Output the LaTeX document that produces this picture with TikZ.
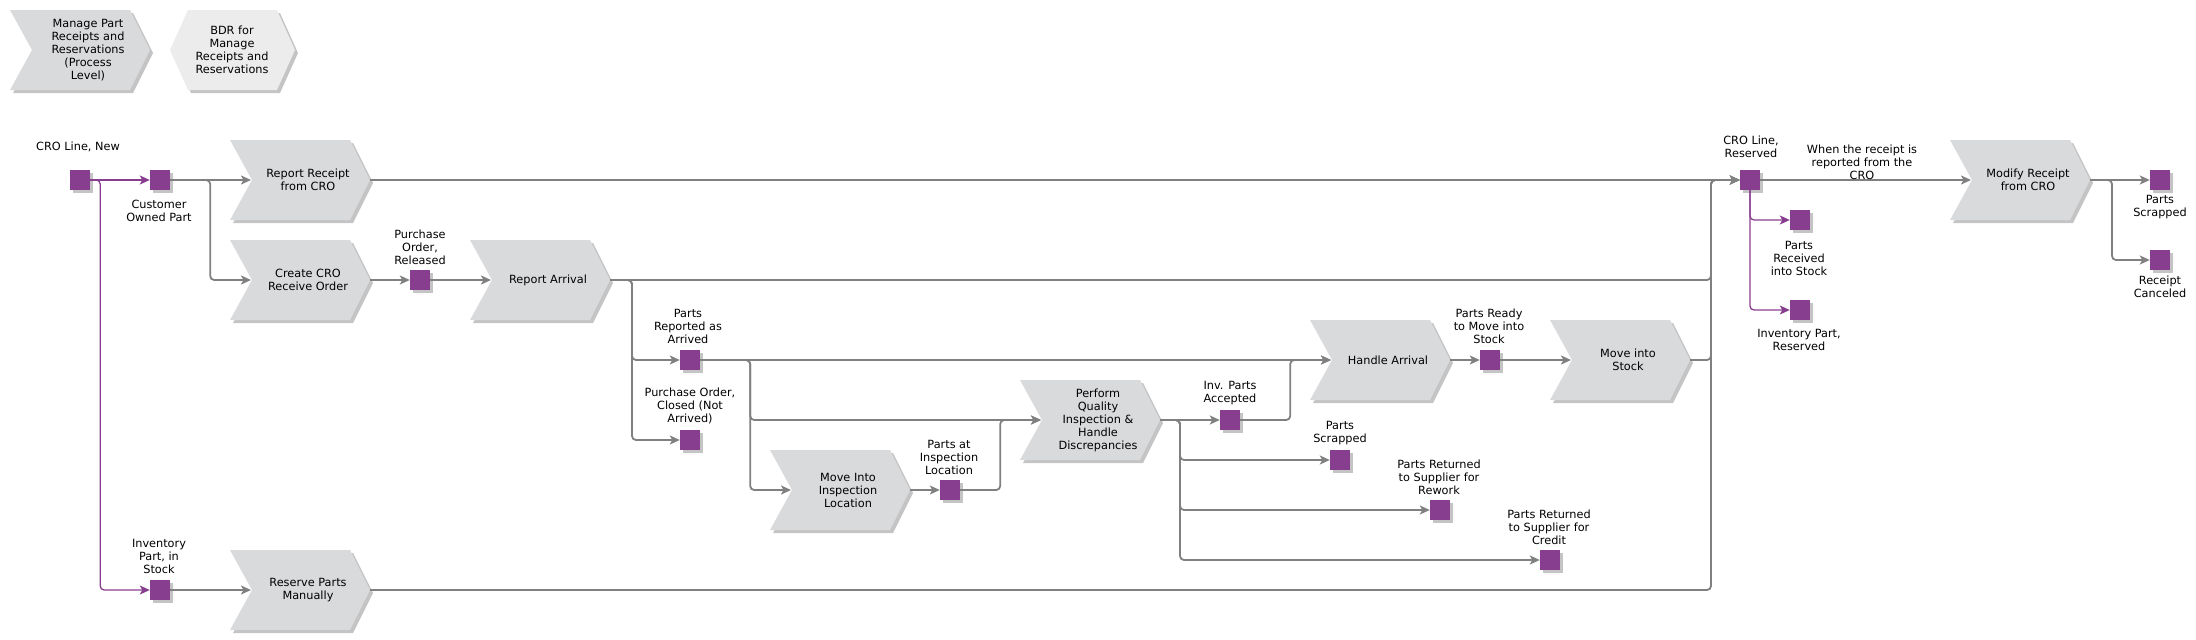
\documentclass[tikz,border=0pt]{standalone}
\usepackage{fontspec}
\setmainfont{DejaVu Sans}
\usetikzlibrary{arrows.meta,calc}
\definecolor{chevfill}{HTML}{D9DADC}
\definecolor{hexfill}{HTML}{ECECEC}
\definecolor{evpurple}{HTML}{883E8E}
\definecolor{lgray}{HTML}{808080}
\definecolor{shad}{HTML}{C4C4C4}
\tikzset{
  every node/.style={font=\fontsize{11.3}{13}\selectfont},
  lbl/.style={align=center, inner sep=0pt},
  evbox/.style={fill=evpurple, minimum size=20pt, inner sep=0pt, draw=none},
  conn/.style={draw=lgray, line width=1.8pt, rounded corners=4pt, -{Stealth[length=10pt,width=9pt,inset=2.5pt]}},
  pconn/.style={draw=evpurple, line width=1.3pt, rounded corners=4pt, -{Stealth[length=10pt,width=9pt,inset=2.5pt]}},
  fnbox/.style={minimum width=140pt, minimum height=80pt, inner sep=0pt},
  fntext/.style={align=center, inner sep=0pt},
}
\newcommand\chevfn[5][chevfill]{%
  \begin{scope}[shift={(#3,#4)}]
    \fill[shad] (-67,-37) -- (53,-37) -- (73,3) -- (53,43) -- (-67,43) -- (-45,3) -- cycle;
    \fill[#1] (-70,-40) -- (50,-40) -- (70,0) -- (50,40) -- (-70,40) -- (-48,0) -- cycle;
    \node[fnbox] (#2) at (0,0) {};
    \node[fntext] (#2-t) at (8,0) {#5};
    \coordinate (#2-in) at (-49,0);
    \coordinate (#2-out) at (70,0);
  \end{scope}}
\newcommand\evt[3]{%
  \fill[shad] (#2-7,#3-7) rectangle (#2+13,#3+13);
  \node[evbox] (#1) at (#2,#3) {};}
\begin{document}
\begin{tikzpicture}[x=1pt,y=-1pt]
\useasboundingbox (0,0) rectangle (2196,640);
\coordinate (bus) at (1711,0);

% legend
\chevfn{lg1}{80}{50}{Manage Part\\Receipts and\\Reservations\\(Process\\Level)}
\fill[shad] (173,53) -- (191,13) -- (280,13) -- (298,53) -- (280,93) -- (191,93) -- cycle;
\fill[hexfill] (170,50) -- (188,10) -- (277,10) -- (295,50) -- (277,90) -- (188,90) -- cycle;
\node[lbl] (lg2) at (232,50) {BDR for\\Manage\\Receipts and\\Reservations};

% functions
\chevfn{rrc}{300}{180}{Report Receipt\\from CRO}
\chevfn{ccro}{300}{280}{Create CRO\\Receive Order}
\chevfn{rpm}{300}{590}{Reserve Parts\\Manually}
\chevfn{rar}{540}{280}{Report Arrival}
\chevfn{mil}{840}{490}{Move Into\\Inspection\\Location}
\chevfn{pqi}{1090}{420}{Perform\\Quality\\Inspection \&\\Handle\\Discrepancies}
\chevfn{har}{1380}{360}{Handle Arrival}
\chevfn{mis}{1620}{360}{Move into\\Stock}
\chevfn{mrc}{2020}{180}{Modify Receipt\\from CRO}

% events
\evt{crn}{80}{180}
\evt{cop}{160}{180}
\evt{ips}{160}{590}
\evt{por}{420}{280}
\evt{pra}{690}{360}
\evt{poc}{690}{440}
\evt{pil}{950}{490}
\evt{ipa}{1230}{420}
\evt{psc}{1340}{460}
\evt{prr}{1440}{510}
\evt{prc}{1550}{560}
\evt{prm}{1490}{360}
\evt{clr}{1750}{180}
\evt{pris}{1800}{220}
\evt{ipr}{1800}{310}
\evt{ps2}{2160}{180}
\evt{rc}{2160}{260}

% event labels
\node[lbl] (crn-l) at (78,147) {CRO Line, New};
\node[lbl] (cop-l) at (159,211) {Customer\\Owned Part};
\node[lbl] (ips-l) at (159,556) {Inventory\\Part, in\\Stock};
\node[lbl] (por-l) at (420,247) {Purchase\\Order,\\Released};
\node[lbl] (pra-l) at (688,326) {Parts\\Reported as\\Arrived};
\node[lbl] (poc-l) at (690,406) {Purchase Order,\\Closed (Not\\Arrived)};
\node[lbl] (pil-l) at (949,457) {Parts at\\Inspection\\Location};
\node[lbl] (ipa-l) at (1230,393) {Inv. Parts\\Accepted};
\node[lbl] (psc-l) at (1340,433) {Parts\\Scrapped};
\node[lbl] (prr-l) at (1439,477) {Parts Returned\\to Supplier for\\Rework};
\node[lbl] (prc-l) at (1549,527) {Parts Returned\\to Supplier for\\Credit};
\node[lbl] (prm-l) at (1489,326) {Parts Ready\\to Move into\\Stock};
\node[lbl] (clr-l) at (1751,147) {CRO Line,\\Reserved};
\node[lbl] (pris-l) at (1799,258) {Parts\\Received\\into Stock};
\node[lbl] (ipr-l) at (1799,340) {Inventory Part,\\Reserved};
\node[lbl] (ps2-l) at (2160,207) {Parts\\Scrapped};
\node[lbl] (rc-l) at (2160,287) {Receipt\\Canceled};

% purple connectors
\draw[pconn] (crn.east) -- (cop.west);
\draw[pconn] (crn.east) -- ++(10,0) |- (ips.west);
\draw[pconn] (clr.south) |- (pris.west);
\draw[pconn] (clr.south) |- (ipr.west);

% gray connectors
\draw[conn] (cop.east) -- (rrc-in);
\draw[conn] (cop.east) -- ++(40,0) |- (ccro-in);
\draw[conn] (ccro-out) -- (por.west);
\draw[conn] (por.east) -- (rar-in);
\draw[conn] (ips.east) -- (rpm-in);
\draw[conn] (rrc-out) -- (clr.west);
\draw[conn] (rar-out) -- (rar-out -| bus) |- (clr.west);
\draw[conn] (rar-out) -- ++(22,0) |- (pra.west);
\draw[conn] (rar-out) -- ++(22,0) |- (poc.west);
\draw[conn] (pra.east) -- (har-in);
\draw[conn] (pra.east) -- ++(50,0) |- (pqi-in);
\draw[conn] (pra.east) -- ++(50,0) |- (mil-in);
\draw[conn] (mil-out) -- (pil.west);
\draw[conn] (pil.east) -- ++(40,0) |- (pqi-in);
\draw[conn] (pqi-out) -- (ipa.west);
\draw[conn] (pqi-out) -- ++(20,0) |- (psc.west);
\draw[conn] (pqi-out) -- ++(20,0) |- (prr.west);
\draw[conn] (pqi-out) -- ++(20,0) |- (prc.west);
\draw[conn] (ipa.east) -- ++(50,0) |- (har-in);
\draw[conn] (har-out) -- (prm.west);
\draw[conn] (prm.east) -- (mis-in);
\draw[conn] (mis-out) -- (mis-out -| bus) |- (clr.west);
\draw[conn] (rpm-out) -- (rpm-out -| bus) |- (clr.west);
\draw[conn] (clr.east) -- (mrc-in);
\node[lbl] (wlbl) at (1862,162) {When the receipt is\\reported from the\\CRO};
\draw[conn] (mrc-out) -- (ps2.west);
\draw[conn] (mrc-out) -- ++(22,0) |- (rc.west);
\end{tikzpicture}
\end{document}
